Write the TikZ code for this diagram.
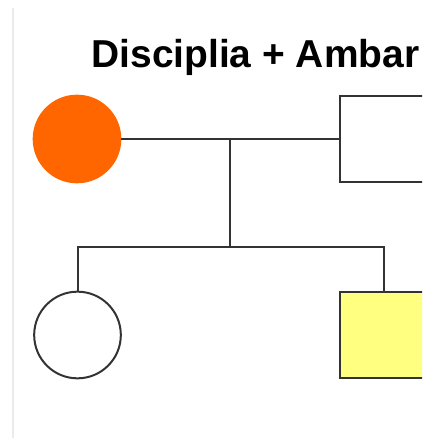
\documentclass[tikz,border=0pt]{standalone}
\usepackage{fontspec}
\setmainfont{Liberation Sans}
\usetikzlibrary{positioning, calc}
\definecolor{pedorange}{HTML}{FF6600}
\definecolor{pedyellow}{HTML}{FFFF80}
\definecolor{pedline}{HTML}{333333}

\begin{document}
\begin{tikzpicture}[x=0.75pt, y=-0.75pt, line width=1.5pt, color=pedline,
  female/.style={circle, draw=pedline, minimum size=65pt, inner sep=0pt},
  male/.style={rectangle, draw=pedline, minimum size=65pt, inner sep=0pt}]
  \useasboundingbox (0,0) rectangle (422,438);
  \clip (0,0) rectangle (422,438);
  % page edge
  \draw[black!8, line width=0.8pt] (13,8) -- (13,438);
  \node[anchor=base west, inner sep=0pt, text=black, font=\fontsize{29.2}{31}\selectfont\bfseries] (T) at (90.5,67.3) {Disciplia + Ambar};
  % parents
  \node[female, fill=pedorange, draw=pedorange] (M) at (77,139) {};
  \node[male] (F) at (383.5,139) {};
  % children
  \node[female] (C1) at (77.5,335) {};
  \node[male, fill=pedyellow] (C2) at (383.5,335) {};
  \coordinate (U) at ($(M.east)!0.5!(F.west)$);
  \draw (M) -- (F);
  \draw (U) -- ++(0,108) coordinate (S);
  \draw (C1.north) |- (S) -| (C2.north);
\end{tikzpicture}
\end{document}
